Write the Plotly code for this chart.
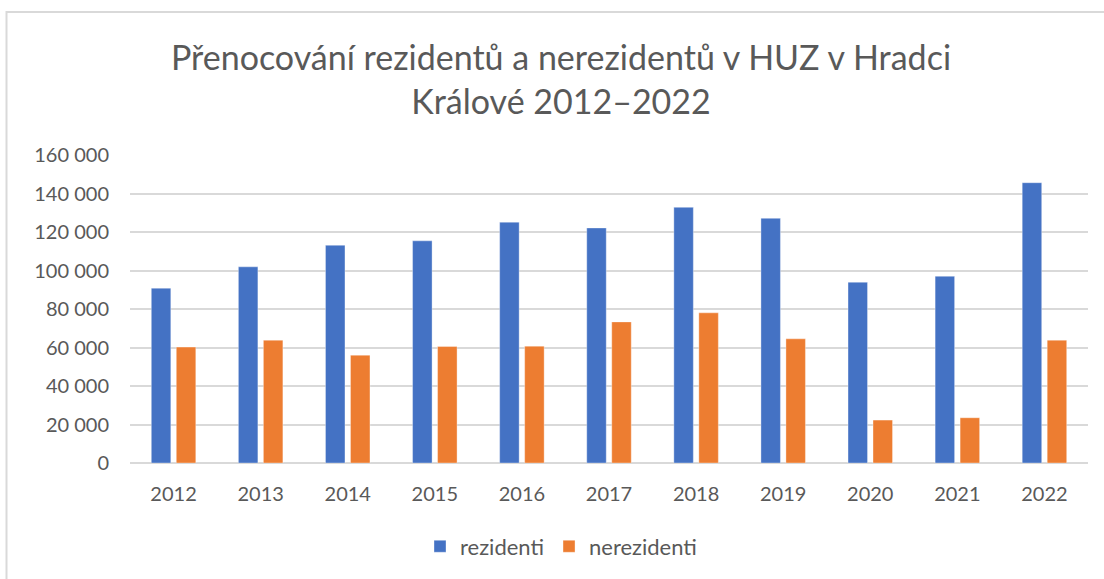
import plotly.graph_objects as go

years = ["2012", "2013", "2014", "2015", "2016", "2017", "2018", "2019", "2020", "2021", "2022"]
rezidenti = [90800, 101900, 113100, 115400, 125100, 122100, 132800, 127100, 93900, 97000, 145600]
nerezidenti = [60200, 63800, 56000, 60500, 60700, 73300, 78000, 64500, 22300, 23500, 63800]

title_text = "Přenocování rezidentů a nerezidentů v HUZ v Hradci<br>Králové 2012–2022"
y_ticks = [0, 20000, 40000, 60000, 80000, 100000, 120000, 140000, 160000]

FONT = "Lato, 'Open Sans', sans-serif"
GREY = "#595959"

fig = go.Figure()
fig.add_trace(go.Bar(name="rezidenti", x=years, y=rezidenti, marker_color="#4472C4",
                     marker_line=dict(color="rgba(255,255,255,0.35)", width=1)))
fig.add_trace(go.Bar(name="nerezidenti", x=years, y=nerezidenti, marker_color="#ED7D31",
                     marker_line=dict(color="rgba(255,255,255,0.35)", width=1)))

L, R, T, B = 130, 16, 155, 114
W, H = 1104, 579
pw, ph = W - L - R, H - T - B

def px(xp):
    return (xp - L) / pw

def py(yp):
    return (H - B - yp) / ph

fig.update_layout(
    width=W, height=H,
    margin=dict(l=L, r=R, t=T, b=B),
    paper_bgcolor="white", plot_bgcolor="white",
    separators=", ",
    barmode="group", bargap=0.426, bargroupgap=0.22,
    font=dict(family=FONT, color=GREY, size=20),
    title=dict(text=title_text, x=561 / W, xanchor="center", xref="container",
               y=1 - 70 / H, yanchor="top", yref="container",
               font=dict(family=FONT, size=34, color=GREY)),
    xaxis=dict(showgrid=False, showline=False, ticks="", tickfont=dict(size=20, color=GREY),
               ticklabelstandoff=17),
    yaxis=dict(range=[0, 160000], tickvals=y_ticks, tickformat=",d", showline=False,
               gridcolor="#D9D9D9", gridwidth=1.5, zeroline=True, zerolinecolor="#D9D9D9",
               zerolinewidth=1.5, ticks="", tickfont=dict(size=20, color=GREY),
               ticklabelstandoff=20),
    legend=dict(orientation="h", x=px(561), xanchor="center", y=py(549), yanchor="middle",
                font=dict(size=22, color=GREY), bgcolor="rgba(0,0,0,0)"),
    showlegend=True,
    shapes=[dict(type="rect", xref="paper", yref="paper", x0=px(6.5), x1=px(1120),
                 y0=py(600), y1=py(11), line=dict(color="#D9D9D9", width=2),
                 fillcolor="rgba(0,0,0,0)", layer="below")],
)

fig.write_html("out.html")
